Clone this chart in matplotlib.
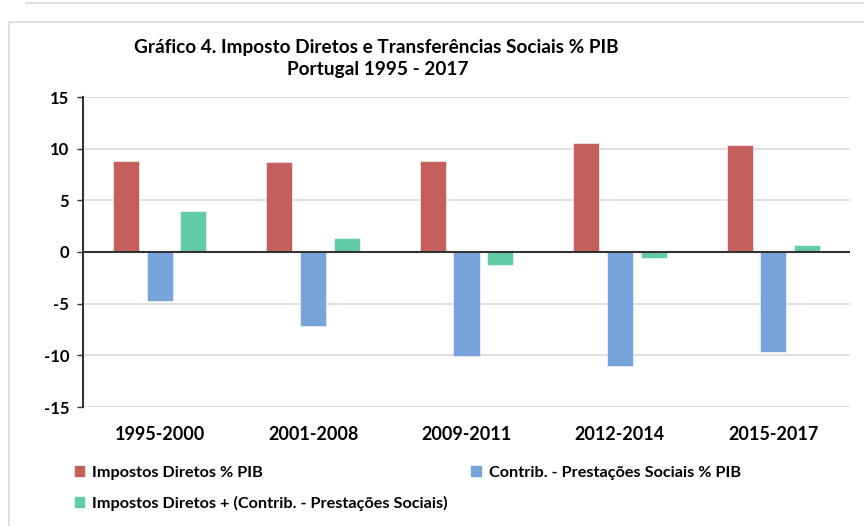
import matplotlib.pyplot as plt
import numpy as np
from matplotlib.patches import Patch, Rectangle

# dados
periodos = ['1995-2000', '2001-2008', '2009-2011', '2012-2014', '2015-2017']
impostos = [8.84, 8.68, 8.84, 10.52, 10.39]
contrib = [-4.77, -7.13, -10.10, -11.07, -9.65]
saldo = [3.94, 1.40, -1.23, -0.55, 0.68]

lbl_imp = 'Impostos Diretos % PIB'
lbl_con = 'Contrib. - Prestações Sociais % PIB'
lbl_sal = 'Impostos Diretos + (Contrib. - Prestações Sociais)'

c_imp = '#C55F5D'
c_con = '#77A4DB'
c_sal = '#63CBA7'

plt.rcParams['font.family'] = ['Lato', 'DejaVu Sans']
plt.rcParams['axes.unicode_minus'] = False

fig = plt.figure(figsize=(8.64, 5.26), dpi=100)
ax = fig.add_axes([83 / 864, 1 - 407 / 526, (850 - 83) / 864, (407 - 97) / 526])

# moldura clara à volta do gráfico
fig.patches.append(Rectangle((9 / 864, -0.01), 1.2, 1 - 22 / 526 + 0.01, transform=fig.transFigure,
                             fill=False, edgecolor='#D9D9D9', lw=1.2))
fig.add_artist(plt.Line2D([0.03, 1], [1 - 3 / 526] * 2, transform=fig.transFigure,
                          color='#D9D9D9', lw=1.2))

x = np.arange(len(periodos))
w = 0.17
d = 0.22
ax.bar(x - d, impostos, w, color=c_imp, edgecolor='white', lw=0.4, zorder=3)
ax.bar(x, contrib, w, color=c_con, edgecolor='white', lw=0.4, zorder=3)
ax.bar(x + d, saldo, w, color=c_sal, edgecolor='white', lw=0.4, zorder=3)

ax.set_xlim(-0.5, len(periodos) - 0.5)
ax.set_ylim(-15, 15)
ax.set_yticks(range(-15, 16, 5))
ax.yaxis.grid(True, color='#D9D9D9', lw=1.2, zorder=0)
ax.axhline(0, color='#333333', lw=1.5, zorder=4)

for s in ['top', 'right', 'bottom']:
    ax.spines[s].set_visible(False)
ax.spines['left'].set_color('#333333')
ax.spines['left'].set_linewidth(1.5)
ax.tick_params(axis='y', length=4, width=1, color='#333333', labelsize=12, pad=6)
ax.tick_params(axis='x', length=0, labelsize=13, pad=14)
ax.set_xticks(x)
ax.set_xticklabels(periodos, fontweight='bold')
for t in ax.get_yticklabels():
    t.set_fontweight('bold')

fig.text(376 / 864, 1 - 47 / 526, 'Gráfico 4. Imposto Diretos e Transferências Sociais % PIB',
         ha='center', va='center', fontsize=13.7, fontweight='bold')
fig.text(378 / 864, 1 - 70 / 526, 'Portugal 1995 - 2017',
         ha='center', va='center', fontsize=13.7, fontweight='bold')

handles = [Patch(color=c_imp, label=lbl_imp), Patch(color=c_sal, label=lbl_sal),
           Patch(color=c_con, label=lbl_con)]
fig.legend(handles=handles, ncol=2, loc='upper left', bbox_to_anchor=(60 / 864, 1 - 451 / 526),
           frameon=False, prop={'weight': 'bold', 'size': 11.7},
           handlelength=0.6, handleheight=0.6, handletextpad=0.5,
           columnspacing=1.4, labelspacing=1.0)

fig.savefig('out.png', dpi=100)
